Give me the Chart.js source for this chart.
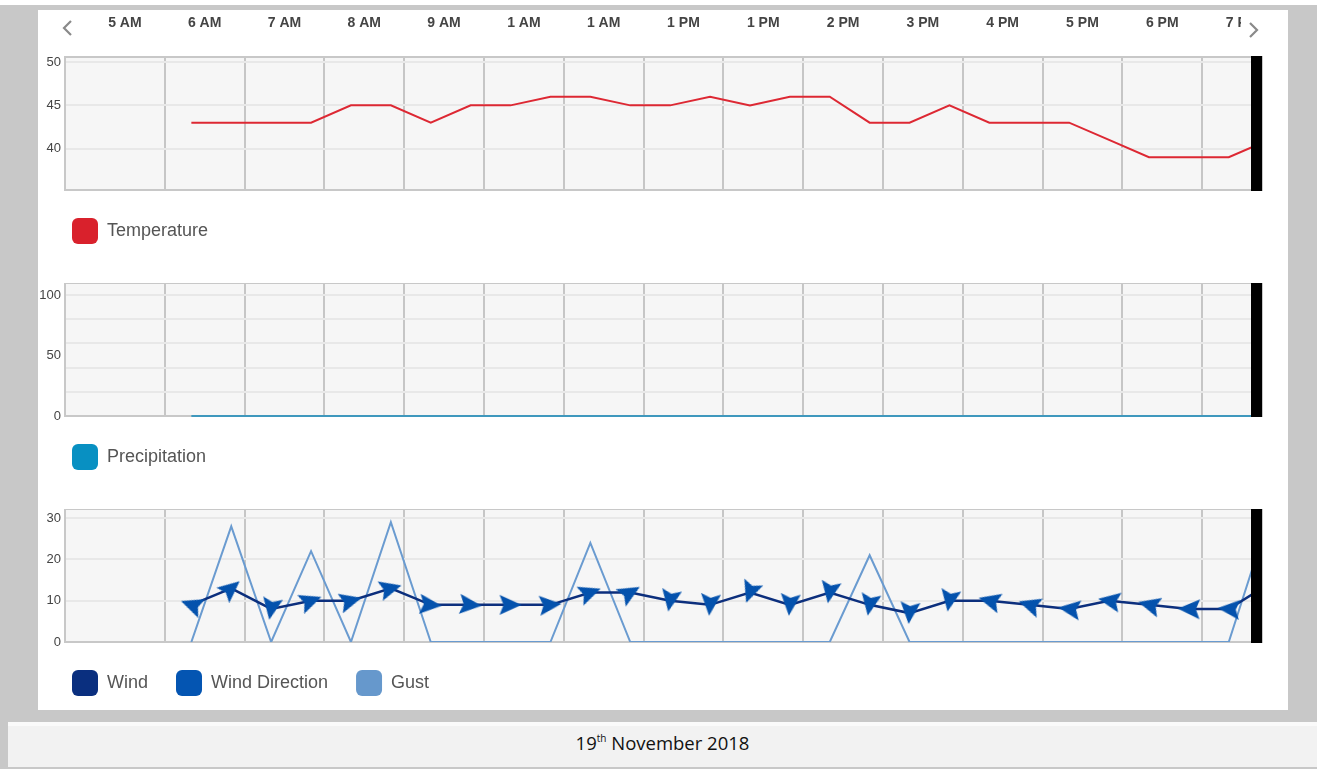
<!DOCTYPE html>
<html>
<head>
<meta charset="utf-8">
<script src="https://cdn.jsdelivr.net/npm/chart.js@4.4.1/dist/chart.umd.min.js"></script>
<style>
body{margin:0;background:#fff;width:1322px;height:769px;overflow:hidden;font-family:"Liberation Sans",Arial,sans-serif;}
#frame{position:absolute;left:0;top:5px;width:1317px;height:764px;background:#c8c8c8;}
#panel{position:absolute;left:38px;top:10px;width:1250px;height:700px;background:#fff;}
.box{position:absolute;left:0;width:1250px;}
#b1{top:0;height:244px;}
#b2{top:273px;height:197px;}
#b3{top:499px;height:197px;}
#prev{position:absolute;left:24px;top:10px;}
#next{position:absolute;left:1203px;top:0;width:47px;height:44px;background:#fff;}
#next svg{position:absolute;left:6px;top:12px;}
#foot{position:absolute;left:8px;top:722px;width:1309px;height:45px;box-sizing:border-box;border-top:4px solid #fafafa;background:#f2f2f2;
  font-family:"Open Sans",sans-serif;font-size:18.5px;color:#111;text-align:center;line-height:34px;}
#foot sup{font-size:10px;vertical-align:8px;line-height:0;}
</style>
</head>
<body>
<div id="frame"></div>
<div id="panel">
  <div class="box" id="b1"><canvas id="tempChart"></canvas></div>
  <div class="box" id="b2"><canvas id="rainChart"></canvas></div>
  <div class="box" id="b3"><canvas id="windChart"></canvas></div>
  <svg id="prev" width="12" height="16"><polyline points="9,1 2,8 9,15" fill="none" stroke="#8a8a8a" stroke-width="2.2"/></svg>
  <div id="next"><svg width="12" height="16"><polyline points="3,1 10,8 3,15" fill="none" stroke="#8a8a8a" stroke-width="2.2"/></svg></div>
</div>
<div id="foot">19<sup>th</sup> November 2018</div>

<script>
// readings, every half hour
const times = ['06:20','06:50','07:20','07:50','08:20','08:50','09:20','09:50','10:20','10:50',
  '11:20','11:50','12:20','12:50','13:20','13:50','14:20','14:50','15:20','15:50',
  '16:20','16:50','17:20','17:50','18:20','18:50','19:20','19:50'];

const temperature = [43,43,43,43,45,45,43,45,45,46,46,45,45,46,45,46,46,43,43,45,43,43,43,41,39,39,39,41];
const precipitation = [0,0,0,0,0,0,0,0,0,0,0,0,0,0,0,0,0,0,0,0,0,0,0,0,0,0,0,0];
const wind = [9,13,8,10,10,13,9,9,9,9,12,12,10,9,12,9,12,9,7,10,10,9,8,10,9,8,8,14];
const gust = [0,28,0,22,0,29,0,0,0,0,24,0,0,0,0,0,0,21,0,0,0,0,0,0,0,0,0,30];
// arrow rotation, degrees clockwise from east
const windDir = [200,320,100,340,345,345,5,5,0,355,340,330,100,95,110,95,100,100,95,100,195,198,188,190,195,182,185,190];

// header and axis ticks
const headerTimes = ['05:30','06:30','07:30','08:30','09:30','10:30','11:30','12:30','13:30','14:30','15:30','16:30','17:30','18:30','19:30'];
const headerLabels = ['5 AM','6 AM','7 AM','8 AM','9 AM','1 AM','1 AM','1 PM','1 PM','2 PM','3 PM','4 PM','5 PM','6 PM','7 PM'];
const gridHours = [6,7,8,9,10,11,12,13,14,15,16,17,18,19];
const tempTicks = [40,45,50];
const rainTicks = [0,10,20,30,40,50,60,70,80,90,100];
const rainGrid = [0,20,40,60,80,100];
const rainLabels = [0,50,100];
const windTicks = [0,10,20,30];

const viewStart = '04:45';
const viewEnd = '19:45';

function toMin(t) {
  const p = t.split(':');
  return +p[0] * 60 + +p[1];
}

function pts(values) {
  return values.map((v, i) => ({x: toMin(times[i]), y: v}));
}

function noPad(s) {
  s.paddingTop = 0; s.paddingBottom = 0; s.paddingLeft = 0; s.paddingRight = 0;
}

Chart.defaults.font.family = '"Liberation Sans", Arial, sans-serif';
Chart.defaults.animation = false;

const plotFrame = {
  id: 'plotFrame',
  afterLayout(chart) {
    // legend sits a little right of the axis labels
    chart.legend.left += 6;
  },
  beforeDraw(chart) {
    const a = chart.chartArea, ctx = chart.ctx;
    ctx.save();
    ctx.fillStyle = '#f6f6f6';
    ctx.fillRect(a.left, a.top, a.width, a.height);
    ctx.restore();
  },
  beforeDatasetsDraw(chart) {
    const a = chart.chartArea, ctx = chart.ctx;
    ctx.save();
    ctx.strokeStyle = '#c8c8c8';
    ctx.lineWidth = 2;
    ctx.strokeRect(a.left, a.top, a.width, a.height);
    ctx.restore();
  },
  afterDatasetsDraw(chart) {
    const a = chart.chartArea, ctx = chart.ctx;
    ctx.save();
    ctx.fillStyle = '#000';
    ctx.fillRect(a.right - 11, a.top - 1, 11, a.height + 2);
    ctx.restore();
  }
};

function arrowImage(color) {
  const c = document.createElement('canvas');
  c.width = 24; c.height = 24;
  const g = c.getContext('2d');
  g.fillStyle = color;
  g.beginPath();
  g.moveTo(23, 12);
  g.lineTo(1, 2);
  g.lineTo(5, 12);
  g.lineTo(1, 22);
  g.closePath();
  g.fill();
  return c;
}

function xGrid() {
  return {
    type: 'linear', position: 'bottom',
    min: toMin(viewStart), max: toMin(viewEnd),
    grid: {color: '#c6c6c6', lineWidth: 2, drawTicks: false},
    border: {display: false},
    ticks: {display: false},
    afterBuildTicks: s => { s.ticks = gridHours.map(h => ({value: h * 60})); },
    afterFit: s => { s.height = 0; noPad(s); }
  };
}

function yAxis(min, max, ticks, gridColor, label) {
  return {
    min: min, max: max,
    grid: {color: gridColor, lineWidth: 2, drawTicks: false},
    border: {display: false},
    ticks: {autoSkip: false, padding: 4, color: '#444', font: {size: 13}, callback: label},
    afterBuildTicks: s => { s.ticks = ticks.map(v => ({value: v})); },
    afterFit: s => { s.width = 27; noPad(s); }
  };
}

function legendOpts() {
  return {
    position: 'bottom', align: 'start',
    labels: {
      boxWidth: 26, boxHeight: 26, padding: 28,
      useBorderRadius: true, borderRadius: 6,
      color: '#555', font: {size: 18},
      sort: (a, b) => a.datasetIndex - b.datasetIndex,
      generateLabels: chart => Chart.defaults.plugins.legend.labels.generateLabels(chart)
        .map(l => Object.assign(l, {lineWidth: 0}))
    }
  };
}

function baseOptions(scales) {
  return {
    responsive: true,
    maintainAspectRatio: false,
    layout: {padding: {left: 0, right: 26}, autoPadding: false},
    elements: {point: {radius: 0}, line: {tension: 0}},
    plugins: {legend: legendOpts(), tooltip: {enabled: false}},
    scales: scales
  };
}

// temperature, with the hour header on top
let tempChart = new Chart(document.getElementById('tempChart'), {
  type: 'line',
  data: {
    datasets: [{
      label: 'Temperature',
      data: pts(temperature),
      borderColor: '#dd2833',
      backgroundColor: '#d9212c',
      borderWidth: 2
    }]
  },
  options: baseOptions({
    x: xGrid(),
    xTop: {
      type: 'linear', position: 'top',
      min: toMin(viewStart), max: toMin(viewEnd),
      grid: {display: false, drawTicks: false},
      border: {display: false},
      ticks: {autoSkip: false, maxRotation: 0, padding: 25, color: '#444',
        font: {size: 14, weight: 'bold'},
        callback: (v, i) => headerLabels[i]},
      afterBuildTicks: s => { s.ticks = headerTimes.map(t => ({value: toMin(t)})); },
      afterFit: s => { s.height = 47; noPad(s); }
    },
    y: yAxis(35.2, 50.6, tempTicks, '#e8e8e8')
  }),
  plugins: [plotFrame]
});

let rainChart = new Chart(document.getElementById('rainChart'), {
  type: 'line',
  data: {
    datasets: [{
      label: 'Precipitation',
      data: pts(precipitation),
      borderColor: '#3f98bd',
      backgroundColor: '#0890c2',
      borderWidth: 2,
      clip: {left: 0, top: 0, right: 0, bottom: 2}
    }]
  },
  options: baseOptions({
    x: xGrid(),
    y: yAxis(0, 110, rainTicks,
      c => rainGrid.includes(c.tick.value) ? '#e8e8e8' : 'rgba(0,0,0,0)',
      v => rainLabels.includes(v) ? v : '')
  }),
  plugins: [plotFrame]
});

let windChart = new Chart(document.getElementById('windChart'), {
  type: 'line',
  data: {
    datasets: [{
      label: 'Wind',
      data: pts(wind),
      borderColor: '#0c2f7d',
      backgroundColor: '#0a2f7f',
      borderWidth: 2.5,
      order: 1
    }, {
      label: 'Wind Direction',
      data: pts(wind),
      showLine: false,
      backgroundColor: '#0455b2',
      borderColor: '#0455b2',
      pointStyle: arrowImage('#0452ad'),
      pointRadius: 10,
      rotation: c => windDir[c.dataIndex],
      order: 0
    }, {
      label: 'Gust',
      data: pts(gust),
      borderColor: '#6a9bd0',
      backgroundColor: '#6698cc',
      borderWidth: 2,
      order: 2
    }]
  },
  options: baseOptions({
    x: xGrid(),
    y: yAxis(0, 32.2, windTicks, '#e8e8e8')
  }),
  plugins: [plotFrame]
});
</script>
</body>
</html>
